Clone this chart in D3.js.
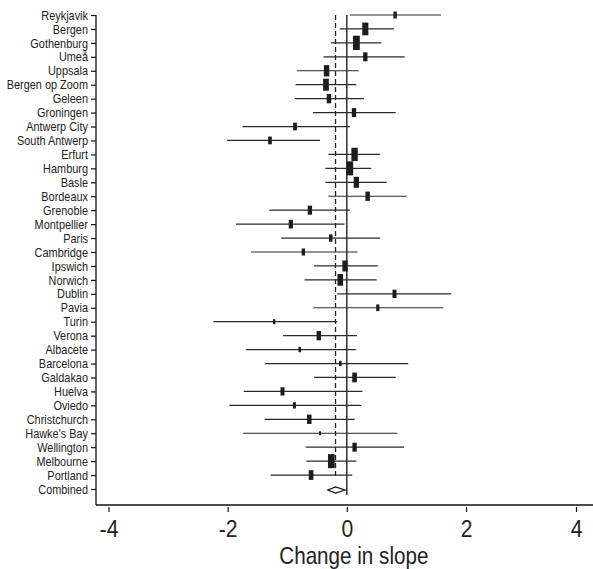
<!DOCTYPE html>
<html>
<head>
<meta charset="utf-8">
<script src="https://cdn.jsdelivr.net/npm/d3@7"></script>
<style>
  html, body { margin: 0; padding: 0; background: #fff; }
  svg { display: block; }
  text { font-family: "Liberation Sans", Arial, sans-serif; fill: #222; }
</style>
</head>
<body>
<div id="chart"></div>
<script>
// ── Data ─────────────────────────────────────────────────────────────────────

const sites = [
  "Reykjavik", "Bergen", "Gothenburg", "Umeå", "Uppsala", "Bergen op Zoom",
  "Geleen", "Groningen", "Antwerp City", "South Antwerp", "Erfurt", "Hamburg",
  "Basle", "Bordeaux", "Grenoble", "Montpellier", "Paris", "Cambridge",
  "Ipswich", "Norwich", "Dublin", "Pavia", "Turin", "Verona", "Albacete",
  "Barcelona", "Galdakao", "Huelva", "Oviedo", "Christchurch", "Hawke's Bay",
  "Wellington", "Melbourne", "Portland"
];

// change in slope, point estimate
const estimate = [
   0.81,  0.31,  0.16,  0.31, -0.34, -0.35,
  -0.30,  0.12, -0.87, -1.29,  0.13,  0.05,
   0.16,  0.35, -0.62, -0.94, -0.27, -0.73,
  -0.03, -0.11,  0.80,  0.52, -1.22, -0.47, -0.79,
  -0.11,  0.13, -1.08, -0.88, -0.63, -0.45,
   0.13, -0.26, -0.60
];

// 95% CI lower bound
const ciLow = [
   0.05, -0.12, -0.27, -0.39, -0.84, -0.86,
  -0.87, -0.57, -1.75, -2.01, -0.31, -0.36,
  -0.36, -0.31, -1.30, -1.86, -1.10, -1.61,
  -0.55, -0.71, -0.16, -0.56, -2.24, -1.07, -1.69,
  -1.37, -0.55, -1.73, -1.97, -1.38, -1.74,
  -0.69, -0.68, -1.28
];

// 95% CI upper bound
const ciHigh = [
   1.58,  0.79,  0.58,  0.97,  0.20,  0.16,
   0.29,  0.82,  0.05, -0.45,  0.56,  0.41,
   0.67,  1.00,  0.05, -0.04,  0.56,  0.18,
   0.52,  0.50,  1.75,  1.62, -0.16,  0.17,  0.15,
   1.03,  0.82,  0.26,  0.24,  0.13,  0.85,
   0.96,  0.16,  0.09
];

// relative study weight
const weight = [
   7, 12.7, 14.3, 9, 11.3, 12,
   9.3, 9, 7.7, 7.7, 13.3, 14,
   11, 9.3, 9, 8.7, 7.3, 7,
   11, 11.7, 8.3, 6.7, 5, 9.3, 5.3,
   5.3, 9.7, 8.3, 6.3, 9.3, 4,
   9, 14, 9.7
];

const combinedLabel = "Combined";
const combinedEst  = -0.19;
const combinedLow  = -0.32;
const combinedHigh = -0.03;

const xTicks = [-4, -2, 0, 2, 4];
const xTitle = "Change in slope";

// ── Chart ────────────────────────────────────────────────────────────────────

const W = 593, H = 569;
const axisY = 505, axisX = 96, plotTop = 15;
const NARROW = 0.84;   // squeeze text horizontally, narrow-font look

const svg = d3.select("#chart").append("svg")
  .attr("width", W).attr("height", H)
  .attr("viewBox", `0 0 ${W} ${H}`);

const x = d3.scaleLinear().domain([-4, 2, 4]).range([108.5, 466, 576]);
const y = d3.scalePoint().domain(sites.concat([combinedLabel])).range([plotTop, 489]);
const boxH = d3.scaleLinear().domain([0, 15]).range([0, 15]);

const rows = sites.map((s, i) => ({
  site: s, est: estimate[i], lo: ciLow[i], hi: ciHigh[i], w: weight[i]
}));

// Reference lines
svg.append("line")
  .attr("x1", x(0)).attr("x2", x(0))
  .attr("y1", plotTop).attr("y2", 495)
  .attr("stroke", "#111").attr("stroke-width", 1.3);

svg.append("line")
  .attr("x1", x(combinedEst)).attr("x2", x(combinedEst))
  .attr("y1", plotTop).attr("y2", y(combinedLabel) - 11)
  .attr("stroke", "#222").attr("stroke-width", 1.3)
  .attr("stroke-dasharray", "5,3");

// CI lines
svg.append("g").selectAll("line")
  .data(rows).join("line")
  .attr("x1", d => x(d.lo)).attr("x2", d => x(d.hi))
  .attr("y1", d => y(d.site)).attr("y2", d => y(d.site))
  .attr("stroke", "#2a2a2a").attr("stroke-width", 1.2);

// Weight boxes
svg.append("g").selectAll("rect")
  .data(rows).join("rect")
  .attr("x", d => x(d.est) - boxH(d.w) * 0.24)
  .attr("y", d => y(d.site) - boxH(d.w) / 2)
  .attr("width", d => boxH(d.w) * 0.48)
  .attr("height", d => boxH(d.w))
  .attr("fill", "#1c1c1c");

// Combined diamond
const yc = y(combinedLabel) + 1;
svg.append("path")
  .attr("d", `M${x(combinedLow)},${yc}L${x(combinedEst)},${yc - 3}L${x(combinedHigh)},${yc}L${x(combinedEst)},${yc + 3}Z`)
  .attr("fill", "#fff").attr("stroke", "#111").attr("stroke-width", 1.2);

// Y axis
const yAxis = svg.append("g")
  .attr("transform", `translate(${axisX},0)`)
  .call(d3.axisLeft(y).tickSize(5).tickPadding(3).tickSizeOuter(0));
yAxis.select(".domain").attr("d", `M0,${plotTop}V${axisY}`).attr("stroke", "#111").attr("stroke-width", 1.3);
yAxis.selectAll(".tick line").attr("stroke", "#111").attr("stroke-width", 1.2);
yAxis.selectAll(".tick text")
  .attr("font-size", 13).attr("fill", "#222")
  .attr("font-family", "'Liberation Sans', Arial, sans-serif")
  .attr("x", -8 / NARROW)
  .attr("transform", `scale(${NARROW},1)`);

// X axis
const xAxis = svg.append("g")
  .attr("transform", `translate(0,${axisY})`)
  .call(d3.axisBottom(x).tickValues(xTicks).tickSize(6).tickPadding(9));
xAxis.select(".domain").attr("d", `M${axisX},0H${W}`).attr("stroke", "#111").attr("stroke-width", 1.3);
xAxis.selectAll(".tick line").attr("stroke", "#111").attr("stroke-width", 1.2).attr("y1", 2).attr("y2", 7);
xAxis.selectAll(".tick text")
  .attr("font-size", 24).attr("fill", "#222")
  .attr("font-family", "'Liberation Sans', Arial, sans-serif")
  .attr("transform", "scale(0.88,1)")
  .text(d => d < 0 ? "-" + Math.abs(d) : d);

svg.append("text")
  .attr("transform", `translate(${x(0) + 7},564) scale(0.86,1)`)
  .attr("text-anchor", "middle")
  .attr("font-size", 24)
  .text(xTitle);
</script>
</body>
</html>
